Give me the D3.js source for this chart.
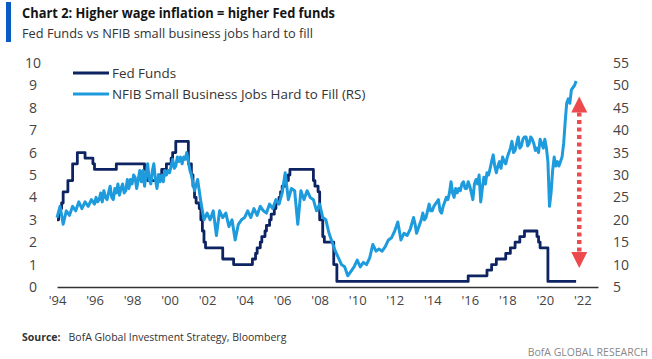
<!DOCTYPE html>
<html>
<head>
<meta charset="utf-8">
<script src="https://cdn.jsdelivr.net/npm/d3@7"></script>
<style>
  html, body { margin: 0; padding: 0; background: #fff; }
  svg { display: block; font-family: "Open Sans", "DejaVu Sans", sans-serif; }
</style>
</head>
<body>
<svg id="chart" width="652" height="359"></svg>
<script>
// ---- Data ----
const fedDates = ["1994-01","1994-02","1994-03","1994-04","1994-05","1994-08","1994-11","1995-02","1995-07","1995-12",
  "1996-01","1997-03","1998-09","1998-10","1998-11","1999-06","1999-08","1999-11","2000-02","2000-03","2000-05",
  "2001-01","2001-03","2001-04","2001-05","2001-06","2001-08","2001-09","2001-10","2001-11","2001-12","2002-11",
  "2003-06","2004-06","2004-08","2004-09","2004-11","2004-12","2005-02","2005-03","2005-05","2005-06","2005-08",
  "2005-09","2005-11","2005-12","2006-01","2006-03","2006-05","2006-06","2007-09","2007-10","2007-12","2008-01",
  "2008-03","2008-04","2008-10","2008-12","2015-12","2016-12","2017-03","2017-06","2017-12","2018-03","2018-06",
  "2018-09","2018-12","2019-08","2019-09","2019-10","2020-03","2021-09"];
const fedValues = [3.0,3.25,3.5,3.75,4.25,4.75,5.5,6.0,5.75,5.5,
  5.25,5.5,5.25,5.0,4.75,5.0,5.25,5.5,5.75,6.0,6.5,
  5.5,5.0,4.5,4.0,3.75,3.5,3.0,2.5,2.0,1.75,1.25,
  1.0,1.25,1.5,1.75,2.0,2.25,2.5,2.75,3.0,3.25,3.5,
  3.75,4.0,4.25,4.5,4.75,5.0,5.25,4.75,4.5,4.25,3.0,
  2.25,2.0,1.0,0.25,0.5,0.75,1.0,1.25,1.5,1.75,2.0,
  2.25,2.5,2.25,2.0,1.75,0.25,0.25];

const nfibDates = [
  "1994-01","1994-03","1994-05","1994-07","1994-09","1994-11",
  "1995-01","1995-03","1995-05","1995-07","1995-09","1995-11",
  "1996-01","1996-02","1996-03","1996-04","1996-05","1996-06","1996-07","1996-08","1996-09","1996-10","1996-11","1996-12",
  "1997-01","1997-02","1997-03","1997-04","1997-05","1997-06","1997-07","1997-08","1997-09","1997-10","1997-11","1997-12",
  "1998-01","1998-02","1998-03","1998-04","1998-05","1998-06","1998-07","1998-08","1998-09","1998-10","1998-11","1998-12",
  "1999-01","1999-02","1999-03","1999-04","1999-05","1999-06","1999-07","1999-08","1999-09","1999-10","1999-11","1999-12",
  "2000-01","2000-02","2000-03","2000-04","2000-05","2000-06","2000-07","2000-08","2000-09","2000-10","2000-11","2000-12",
  "2001-02","2001-03","2001-05","2001-07","2001-09","2001-11",
  "2002-01","2002-03","2002-05","2002-07","2002-09","2002-11",
  "2003-01","2003-03","2003-05","2003-07","2003-09","2003-11",
  "2004-01","2004-03","2004-05","2004-07","2004-09","2004-11",
  "2005-01","2005-03","2005-05","2005-07","2005-09","2005-11",
  "2006-01","2006-03","2006-05","2006-07","2006-09","2006-11",
  "2007-01","2007-03","2007-05","2007-07","2007-09","2007-11",
  "2008-01","2008-03","2008-05","2008-07","2008-09","2008-11",
  "2009-01","2009-03","2009-05","2009-07","2009-09","2009-11",
  "2010-01","2010-03","2010-05","2010-07","2010-09","2010-11",
  "2011-01","2011-03","2011-05","2011-07","2011-09","2011-11",
  "2012-01","2012-03","2012-05","2012-07","2012-09","2012-11",
  "2013-01","2013-02","2013-03","2013-04","2013-05","2013-06","2013-07","2013-08","2013-09","2013-10","2013-11","2013-12",
  "2014-01","2014-02","2014-03","2014-04","2014-05","2014-06","2014-07","2014-08","2014-09","2014-10","2014-11","2014-12",
  "2015-01","2015-02","2015-03","2015-04","2015-05","2015-06","2015-07","2015-08","2015-09","2015-10","2015-11","2015-12",
  "2016-01","2016-02","2016-03","2016-04","2016-05","2016-06","2016-07","2016-08","2016-09","2016-10","2016-11","2016-12",
  "2017-01","2017-02","2017-03","2017-04","2017-05","2017-06","2017-07","2017-08","2017-09","2017-10","2017-11","2017-12",
  "2018-01","2018-02","2018-03","2018-04","2018-05","2018-06","2018-07","2018-08","2018-09","2018-10","2018-11","2018-12",
  "2019-01","2019-02","2019-03","2019-04","2019-05","2019-06","2019-07","2019-08","2019-09","2019-10","2019-11","2019-12",
  "2020-01","2020-02","2020-03","2020-04","2020-05","2020-06","2020-07","2020-08","2020-09","2020-10","2020-11","2020-12",
  "2021-01","2021-02","2021-03","2021-04","2021-05","2021-06","2021-07","2021-08","2021-09"];
const nfibValues = [
  20.5,23,19,22,21,23,
  22,24,22.5,24,23,24.5,
  23.5,25,24,24.5,26,24,26.5,25,24.5,26,27.5,25,
  24.5,27,26,28,25.5,27,28,26,26.5,29,27,29,
  28,30,29.5,27,29,31,28.5,31,27.5,30,32.5,29,
  28,31,32.5,29,27,30,28.5,30,28.5,31,30,31,
  30.5,32,33.5,31.5,32,34,33,34,32.5,34,33.5,35,
  31,30,26.5,29,24,20,
  21.5,20,22,16.5,22,20.5,
  21.5,18.5,20,15.5,19,20,
  20.5,22,20.5,22.5,21,23,
  22,21.5,23.5,22.5,24.5,23.5,
  26,30.5,24.5,27,26.5,19,
  26.5,24.5,26.5,25,24.5,22,
  23.5,20.5,20,17,15,13,
  11.5,10,9.5,7.5,8.5,9.5,
  11,9.5,10.5,10,11.5,14.5,
  13,13.5,13,14,15.5,16,
  17.5,19.5,15.5,17,16.5,18,
  20.5,19,17,18,19,20,21.5,20,20.5,22,23.5,22,
  22,23,23.5,24,24.5,22,21.5,23,24,25,24.5,26,
  28.5,26,25,27,26,27,26.5,28,28.5,27,27,28.5,
  27.5,26,24.5,28,29,28,30,24,27,29.5,28,30.5,
  30,31.5,33,34.5,32,30.5,32,33,31.5,34,33,32.5,
  34,35,36,37.5,35,35.5,37,38.5,36,36.5,38,38.5,
  38.5,36.5,37,38.5,38,37,35.5,36,35,38,37,36,
  38,36,33,23,26,31,34,32,33,32,33,34,
  37,42,46,47,46,49,49.5,50,51];

const xTicks = ["1994","1996","1998","2000","2002","2004","2006","2008","2010","2012","2014","2016","2018","2020","2022"];
const leftTicks = [0,1,2,3,4,5,6,7,8,9,10];
const rightTicks = [5,10,15,20,25,30,35,40,45,50,55];

// ---- Setup ----
const parseM = d3.timeParse("%Y-%m");
const parseY = d3.timeParse("%Y");
const fed = fedDates.map((d,i) => ({date: parseM(d), v: fedValues[i]}));
const nfib = nfibDates.map((d,i) => ({date: parseM(d), v: nfibValues[i]}));

const svg = d3.select("#chart");
const x = d3.scaleTime().domain([parseM("1994-01"), parseM("2022-11")]).range([57, 598]);
const yL = d3.scaleLinear().domain([0, 10]).range([287, 63]);
const yR = d3.scaleLinear().domain([5, 55]).range([287, 63]);

// Title block
svg.append("rect").attr("x", 6).attr("y", 2).attr("width", 5).attr("height", 40).attr("fill", "#0b5cc2");
svg.append("text").attr("x", 22).attr("y", 18).attr("font-size", 15).attr("font-weight", 700)
  .attr("fill", "#141414").attr("textLength", 313).attr("lengthAdjust", "spacingAndGlyphs")
  .text("Chart 2: Higher wage inflation = higher Fed funds");
svg.append("text").attr("x", 22).attr("y", 38).attr("font-size", 13.5)
  .attr("fill", "#333").attr("textLength", 291).attr("lengthAdjust", "spacingAndGlyphs")
  .text("Fed Funds vs NFIB small business jobs hard to fill");

// Axes
const xAxis = d3.axisBottom(x).tickValues(xTicks.map(parseY)).tickFormat(d3.timeFormat("'%y"))
  .tickSize(0).tickSizeOuter(0).tickPadding(9);
const gx = svg.append("g").attr("transform", "translate(0,287)").call(xAxis);
gx.select(".domain").attr("stroke", "#333").attr("stroke-width", 1.5);
gx.selectAll("text").attr("font-size", 13).attr("fill", "#444").attr("font-family", "Open Sans, sans-serif");

const gl = svg.append("g").attr("transform", "translate(33,0)")
  .call(d3.axisLeft(yL).tickValues(leftTicks).tickSize(0).tickPadding(0));
gl.select(".domain").remove();
gl.selectAll("text").attr("text-anchor", "middle").attr("font-size", 14).attr("fill", "#444")
  .attr("font-family", "Open Sans, sans-serif");

const gr = svg.append("g").attr("transform", "translate(613,0)")
  .call(d3.axisRight(yR).tickValues(rightTicks).tickSize(0).tickPadding(0));
gr.select(".domain").remove();
gr.selectAll("text").attr("text-anchor", "start").attr("font-size", 14).attr("fill", "#444")
  .attr("font-family", "Open Sans, sans-serif");

// Lines
const fedColor = "#0e2462", nfibColor = "#1d9bdc";
svg.append("path").datum(fed).attr("fill", "none").attr("stroke", fedColor).attr("stroke-width", 2.8)
  .attr("stroke-linejoin", "round")
  .attr("d", d3.line().x(d => x(d.date)).y(d => yL(d.v)).curve(d3.curveStepAfter));
svg.append("path").datum(nfib).attr("fill", "none").attr("stroke", nfibColor).attr("stroke-width", 3)
  .attr("stroke-linejoin", "round")
  .attr("d", d3.line().x(d => x(d.date)).y(d => yR(d.v)));

// Legend
const legend = [{label: "Fed Funds", color: fedColor, y: 73}, {label: "NFIB Small Business Jobs Hard to Fill (RS)", color: nfibColor, y: 94}];
legend.forEach(l => {
  svg.append("line").attr("x1", 73).attr("x2", 109).attr("y1", l.y).attr("y2", l.y)
    .attr("stroke", l.color).attr("stroke-width", 3);
  svg.append("text").attr("x", 112).attr("y", l.y + 5).attr("font-size", 13.4).attr("fill", "#333").text(l.label);
});

// Red double arrow annotation
const red = "#ec4a4c";
const ax = x(parseM("2021-11"));
const yTop = yL(8.5), yBot = yL(0.85);
svg.append("line").attr("x1", ax).attr("x2", ax).attr("y1", yTop + 16).attr("y2", yBot - 16)
  .attr("stroke", red).attr("stroke-width", 4.5).attr("stroke-dasharray", "4,3.5");
svg.append("path").attr("fill", red)
  .attr("d", `M${ax},${yTop} L${ax-8},${yTop+16} L${ax+8},${yTop+16} Z`);
svg.append("path").attr("fill", red)
  .attr("d", `M${ax},${yBot} L${ax-8},${yBot-16} L${ax+8},${yBot-16} Z`);

// Footer
const src = svg.append("text").attr("x", 22).attr("y", 341).attr("font-size", 10.5).attr("fill", "#333");
src.append("tspan").attr("font-weight", 700).text("Source:");
src.append("tspan").attr("dx", 8).text("BofA Global Investment Strategy, Bloomberg");
svg.append("text").attr("x", 648).attr("y", 356).attr("text-anchor", "end").attr("font-size", 10.5)
  .attr("fill", "#888").text("BofA GLOBAL RESEARCH");
</script>
</body>
</html>
